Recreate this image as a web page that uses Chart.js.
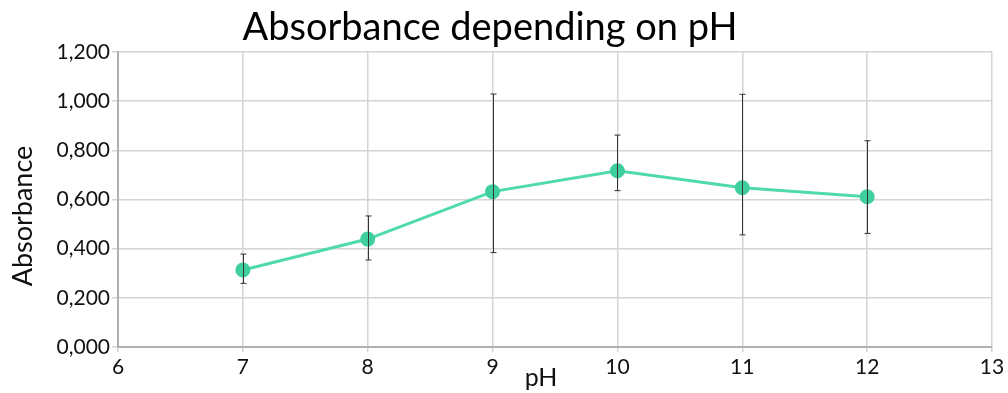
<!DOCTYPE html>
<html><head><meta charset="utf-8">
<script src="https://cdn.jsdelivr.net/npm/chart.js@4.4.1/dist/chart.umd.min.js"></script>
<style>html,body{margin:0;padding:0;background:#fff}#wrap{width:1008px;height:393px}</style>
</head><body><div id="wrap"><canvas id="c" width="1008" height="393"></canvas></div>
<script>
const pH = [7, 8, 9, 10, 11, 12];
const absorbance = [0.313, 0.439, 0.632, 0.717, 0.648, 0.611];
const errLow = [0.259, 0.354, 0.384, 0.636, 0.456, 0.462];
const errHigh = [0.378, 0.533, 1.029, 0.862, 1.028, 0.839];
const xTicks = [6, 7, 8, 9, 10, 11, 12, 13];
const yTicks = [0, 0.2, 0.4, 0.6, 0.8, 1.0, 1.2];
const titleText = 'Absorbance depending on pH';
const xTitle = 'pH';
const yTitle = 'Absorbance';

const errorBars = {
  id: 'errorBars',
  afterDatasetsDraw(chart) {
    const {ctx, scales: {x, y}} = chart;
    ctx.save();
    ctx.strokeStyle = '#333';
    ctx.lineWidth = 1;
    pH.forEach((v, i) => {
      const px = Math.round(x.getPixelForValue(v)) + 0.5;
      const top = y.getPixelForValue(errHigh[i]);
      const bot = y.getPixelForValue(errLow[i]);
      ctx.beginPath();
      ctx.moveTo(px, top); ctx.lineTo(px, bot);
      ctx.moveTo(px - 3, top); ctx.lineTo(px + 3, top);
      ctx.moveTo(px - 3, bot); ctx.lineTo(px + 3, bot);
      ctx.stroke();
    });
    ctx.restore();
  }
};
const titlePlugin = {
  id: 'titlePlugin',
  afterDraw(chart) {
    const ctx = chart.ctx;
    ctx.save();
    ctx.fillStyle = '#000';
    ctx.textAlign = 'center';
    ctx.textBaseline = 'alphabetic';
    ctx.font = '38px Lato';
    ctx.fillText(titleText, 490, 40);
    ctx.fillStyle = '#111';
    ctx.font = '25px Lato';
    ctx.textBaseline = 'middle';
    ctx.fillText(xTitle, 541, 378);
    ctx.translate(23, 216);
    ctx.rotate(-Math.PI / 2);
    ctx.font = '27px Lato';
    ctx.fillText(yTitle, 0, 0);
    ctx.restore();
  }
};

new Chart(document.getElementById('c'), {
  type: 'line',
  data: {
    datasets: [{
      data: pH.map((v, i) => ({x: v, y: absorbance[i]})),
      borderColor: '#4fdaa9',
      backgroundColor: '#3fcf9c',
      pointBackgroundColor: '#3fcf9c',
      pointBorderColor: '#3fcf9c',
      borderWidth: 3,
      pointRadius: 6,
      tension: 0
    }]
  },
  options: {
    responsive: false,
    animation: false,
    plugins: {legend: {display: false}, tooltip: {enabled: false}},
    layout: {padding: {top: 52, right: 16, left: 0, bottom: 0}},
    scales: {
      x: {
        type: 'linear', min: 6, max: 13,
        afterBuildTicks(s) { s.ticks = xTicks.map(v => ({value: v})); },
        afterFit(s) { s.height = 46; },
        grid: {color: '#d4d4d4', lineWidth: 1.5, tickLength: 5, drawTicks: true},
        border: {color: '#b0b0b0', width: 2},
        ticks: {font: {family: 'Lato', size: 21}, color: '#111', padding: 3, maxRotation: 0},
        title: {display: false}
      },
      y: {
        min: 0, max: 1.2,
        afterBuildTicks(s) { s.ticks = yTicks.map(v => ({value: v})); },
        afterFit(s) { s.width = 118; },
        grid: {color: '#d4d4d4', lineWidth: 1.5, tickLength: 6},
        border: {color: '#b0b0b0', width: 2},
        ticks: {font: {family: 'Lato', size: 21}, color: '#111', padding: 2,
          callback: v => Number(v).toFixed(3).replace('.', ',')},
        title: {display: false}
      }
    }
  },
  plugins: [errorBars, titlePlugin]
});
</script></body></html>
